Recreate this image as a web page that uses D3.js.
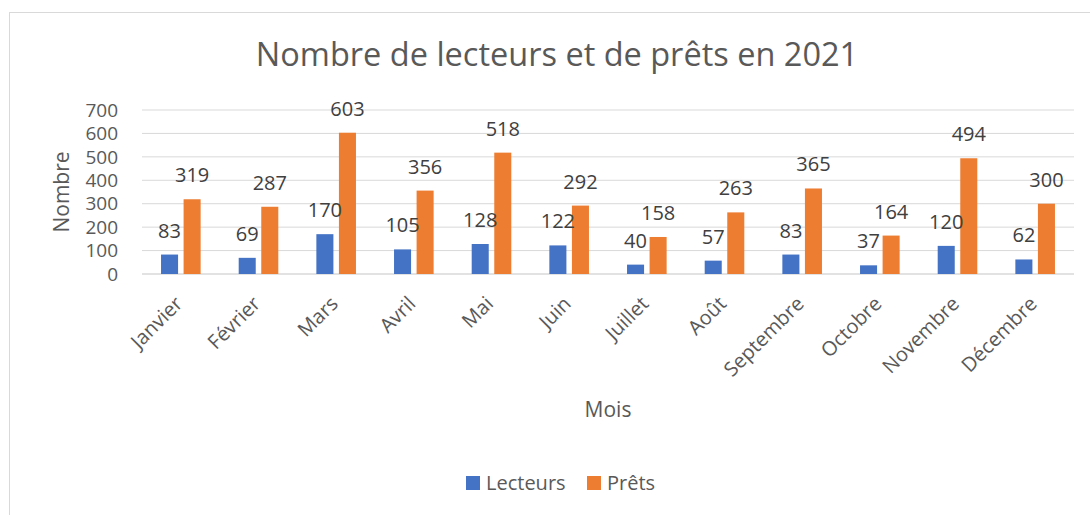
<!DOCTYPE html>
<html lang="fr">
<head>
<meta charset="UTF-8">
<title>Nombre de lecteurs et de prêts en 2021</title>
<script src="https://d3js.org/d3.v7.min.js"></script>
<style>
  body { margin: 0; background: #fff; }
  text { font-family: "Open Sans", "Noto Sans", sans-serif; }
</style>
</head>
<body>
<script>
// data
var mois = ["Janvier", "Février", "Mars", "Avril", "Mai", "Juin", "Juillet", "Août", "Septembre", "Octobre", "Novembre", "Décembre"];
var lecteurs = [83, 69, 170, 105, 128, 122, 40, 57, 83, 37, 120, 62];
var prets = [319, 287, 603, 356, 518, 292, 158, 263, 365, 164, 494, 300];
var series = ["Lecteurs", "Prêts"];
var couleurs = ["#4472C4", "#ED7D31"];
var yTicks = [0, 100, 200, 300, 400, 500, 600, 700];

var W = 1090, H = 515;
var plotL = 142, plotR = 1074, plotT = 110, plotB = 274;

var svg = d3.select("body").append("svg")
    .attr("width", W)
    .attr("height", H);

// chart frame
svg.append("rect")
    .attr("x", 9.5).attr("y", 12.5)
    .attr("width", W + 10).attr("height", H + 10)
    .attr("fill", "#fff")
    .attr("stroke", "#D9D9D9");

var x = d3.scaleBand().domain(mois).range([plotL, plotR]);
var xs = d3.scaleBand().domain(series).range([-11.3 - 8.5, 11.3 + 8.5]).paddingInner(0.245);
var y = d3.scaleLinear().domain([0, 700]).range([plotB, plotT]);

// gridlines
svg.append("g").selectAll("line")
    .data(yTicks)
    .enter().append("line")
    .attr("x1", plotL).attr("x2", plotR)
    .attr("y1", function(d) { return y(d); })
    .attr("y2", function(d) { return y(d); })
    .attr("stroke", "#D9D9D9")
    .attr("stroke-width", function(d) { return d == 0 ? 1.5 : 1; });

// y axis labels
svg.append("g").selectAll("text")
    .data(yTicks)
    .enter().append("text")
    .attr("x", 118)
    .attr("y", function(d) { return y(d); })
    .attr("dy", "0.35em")
    .attr("text-anchor", "end")
    .attr("font-size", 19)
    .attr("fill", "#595959")
    .text(function(d) { return d; });

// bars
var rows = mois.map(function(m, i) { return { mois: m, vals: [lecteurs[i], prets[i]] }; });
var grp = svg.append("g").selectAll("g")
    .data(rows)
    .enter().append("g")
    .attr("transform", function(d) { return "translate(" + (x(d.mois) + x.bandwidth() / 2) + ",0)"; });

grp.selectAll("rect")
    .data(function(d) { return d.vals.map(function(v, j) { return { s: series[j], v: v, c: couleurs[j] }; }); })
    .enter().append("rect")
    .attr("x", function(d) { return xs(d.s); })
    .attr("width", xs.bandwidth())
    .attr("y", function(d) { return y(d.v); })
    .attr("height", function(d) { return plotB - y(d.v); })
    .attr("fill", function(d) { return d.c; });

// data labels
grp.selectAll("text")
    .data(function(d) { return d.vals.map(function(v, j) { return { s: series[j], v: v }; }); })
    .enter().append("text")
    .attr("x", function(d) { return xs(d.s) + xs.bandwidth() / 2; })
    .attr("y", function(d) { return y(d.v) - 24; })
    .attr("dy", "0.35em")
    .attr("text-anchor", "middle")
    .attr("font-size", 20)
    .attr("fill", "#404040")
    .text(function(d) { return d.v; });

// x labels rotated
svg.append("g").selectAll("text")
    .data(mois)
    .enter().append("text")
    .attr("transform", function(d) { return "translate(" + (x(d) + x.bandwidth() / 2 + 3) + ",305) rotate(-45)"; })
    .attr("text-anchor", "end")
    .attr("font-size", 20)
    .attr("fill", "#595959")
    .text(function(d) { return d; });

// title
svg.append("text")
    .attr("x", 557).attr("y", 55)
    .attr("dy", "0.35em")
    .attr("text-anchor", "middle")
    .attr("font-size", 32.5)
    .attr("fill", "#595959")
    .text("Nombre de lecteurs et de prêts en 2021");

// axis titles
svg.append("text")
    .attr("transform", "translate(62,192) rotate(-90)")
    .attr("dy", "0.35em")
    .attr("text-anchor", "middle")
    .attr("font-size", 21)
    .attr("fill", "#595959")
    .text("Nombre");

svg.append("text")
    .attr("x", 608).attr("y", 410)
    .attr("dy", "0.35em")
    .attr("text-anchor", "middle")
    .attr("font-size", 21)
    .attr("fill", "#595959")
    .text("Mois");

// legend
var legX = [466, 587];
var leg = svg.append("g").selectAll("g")
    .data(series)
    .enter().append("g")
    .attr("transform", function(d, i) { return "translate(" + legX[i] + ",476)"; });
leg.append("rect")
    .attr("width", 14).attr("height", 14)
    .attr("fill", function(d, i) { return couleurs[i]; });
leg.append("text")
    .attr("x", 20).attr("y", 7)
    .attr("dy", "0.35em")
    .attr("font-size", 20)
    .attr("fill", "#595959")
    .text(function(d) { return d; });
</script>
</body>
</html>
